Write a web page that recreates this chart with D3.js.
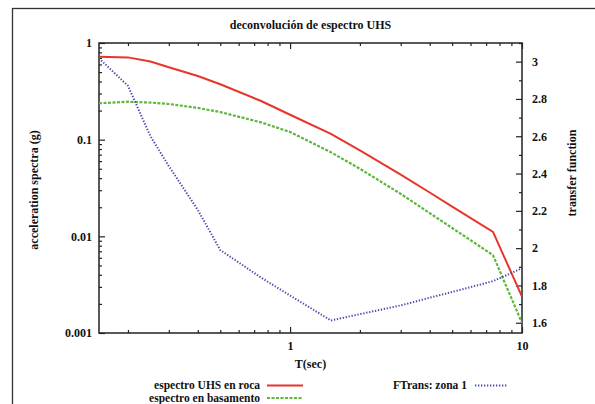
<!DOCTYPE html>
<html>
<head>
<meta charset="utf-8">
<script src="https://cdn.jsdelivr.net/npm/d3@7"></script>
<style>
  html, body { margin: 0; padding: 0; background: #fff; }
  svg { display: block; }
  svg text { font-family: 'Liberation Serif', 'DejaVu Serif', serif !important; font-weight: 700 !important; fill: #111; }
</style>
</head>
<body>
<svg id="chart" width="595" height="404"></svg>
<script>
// ---- data ----
const periods = [0.15, 0.2, 0.25, 0.3, 0.4, 0.5, 0.75, 1, 1.5, 2, 3, 4, 5, 7.5, 10];
const uhsRoca = [0.72, 0.71, 0.644, 0.562, 0.456, 0.374, 0.251, 0.181, 0.115, 0.0773, 0.0435, 0.0284, 0.0203, 0.0111, 0.00238];
const basamento = [0.238, 0.247, 0.242, 0.234, 0.213, 0.193, 0.151, 0.120, 0.074, 0.050, 0.0275, 0.0174, 0.0122, 0.00638, 0.00127];
const ftrans = [3.018, 2.87, 2.60, 2.44, 2.205, 1.99, 1.842, 1.746, 1.612, 1.646, 1.693, 1.734, 1.765, 1.823, 1.892];
const xMajorTicks = [1, 10];
const yLeftTicks = [0.001, 0.01, 0.1, 1];
const yRightTicks = [1.6, 1.8, 2.0, 2.2, 2.4, 2.6, 2.8, 3.0];
const titleText = "deconvolución de espectro UHS";
const xLabel = "T(sec)";
const yLeftLabel = "acceleration spectra (g)";
const yRightLabel = "transfer function";
const seriesNames = ["espectro UHS en roca", "espectro en basamento", "FTrans: zona 1"];

// ---- layout ----
const L = 99, R = 522, T = 43, B = 333;
const svg = d3.select("#chart");

// outer frame
svg.append("rect").attr("x", 12.5).attr("y", 8.5).attr("width", 700).attr("height", 500)
  .attr("fill", "none").attr("stroke", "#333").attr("stroke-width", 1.3);

const x = d3.scaleLog().domain([0.15, 10]).range([L, R]);
const yL = d3.scaleLog().domain([0.001, 1]).range([B, T]);
const yR = d3.scaleLinear().domain([1.545, 3.1]).range([B, T]);

// minor tick values
const xMinor = [];
[0.1, 1].forEach(d => { for (let k = 2; k <= 9; k++) { const v = d * k; if (v >= 0.15 && v < 10) xMinor.push(v); } });
const yMinor = [];
[0.001, 0.01, 0.1].forEach(d => { for (let k = 2; k <= 9; k++) yMinor.push(d * k); });
const yRMinor = d3.range(1.6, 3.101, 0.1).filter(v => Math.abs(Math.round(v * 10) % 2) === 1);

function styleAxis(g) {
  g.select(".domain").remove();
  g.selectAll(".tick line").attr("stroke", "#222").attr("stroke-width", 1.2);
  g.selectAll(".tick text").attr("font-size", 12).attr("fill", "#111");
}

// bottom axis
svg.append("g").attr("transform", `translate(0,${B})`)
  .call(d3.axisBottom(x).tickValues(xMajorTicks).tickFormat(d3.format("d")).tickSize(-6).tickPadding(8)).call(styleAxis);
svg.append("g").attr("transform", `translate(0,${B})`)
  .call(d3.axisBottom(x).tickValues(xMinor).tickFormat("").tickSize(-3)).call(styleAxis);
// top mirror
svg.append("g").attr("transform", `translate(0,${T})`)
  .call(d3.axisTop(x).tickValues(xMajorTicks).tickFormat("").tickSize(-6)).call(styleAxis);
svg.append("g").attr("transform", `translate(0,${T})`)
  .call(d3.axisTop(x).tickValues(xMinor).tickFormat("").tickSize(-3)).call(styleAxis);
// left axis
svg.append("g").attr("transform", `translate(${L},0)`)
  .call(d3.axisLeft(yL).tickValues(yLeftTicks).tickFormat(d => d3.format("")(d)).tickSize(-6).tickPadding(7)).call(styleAxis);
svg.append("g").attr("transform", `translate(${L},0)`)
  .call(d3.axisLeft(yL).tickValues(yMinor).tickFormat("").tickSize(-3)).call(styleAxis);
// right axis
svg.append("g").attr("transform", `translate(${R},0)`)
  .call(d3.axisRight(yR).tickValues(yRightTicks).tickFormat(d3.format(".1~f")).tickSize(-6).tickPadding(10)).call(styleAxis);
svg.append("g").attr("transform", `translate(${R},0)`)
  .call(d3.axisRight(yR).tickValues(yRMinor).tickFormat("").tickSize(-3)).call(styleAxis);

// plot border
svg.append("rect").attr("x", L).attr("y", T).attr("width", R - L).attr("height", B - T)
  .attr("fill", "none").attr("stroke", "#222").attr("stroke-width", 1.5);

// clip
svg.append("clipPath").attr("id", "clip").append("rect").attr("x", L).attr("y", T).attr("width", R - L).attr("height", B - T);
const plot = svg.append("g").attr("clip-path", "url(#clip)");

const lineL = d3.line().x((d, i) => x(periods[i])).y(d => yL(d));
const lineR = d3.line().x((d, i) => x(periods[i])).y(d => yR(d));

const styles = [
  { color: "#e8352c", dash: null, width: 2 },
  { color: "#5cb83a", dash: "3,1.5", width: 2.2 },
  { color: "#4848a8", dash: "1.3,1.7", width: 2 }
];

plot.append("path").datum(basamento).attr("d", lineL).attr("fill", "none")
  .attr("stroke", styles[1].color).attr("stroke-width", styles[1].width).attr("stroke-dasharray", styles[1].dash);
plot.append("path").datum(uhsRoca).attr("d", lineL).attr("fill", "none")
  .attr("stroke", styles[0].color).attr("stroke-width", styles[0].width);
plot.append("path").datum(ftrans).attr("d", lineR).attr("fill", "none")
  .attr("stroke", styles[2].color).attr("stroke-width", styles[2].width).attr("stroke-dasharray", styles[2].dash);

// titles
svg.append("text").attr("x", (L + R) / 2).attr("y", 29).attr("text-anchor", "middle").attr("font-size", 12).text(titleText);
svg.append("text").attr("x", (L + R) / 2).attr("y", 368).attr("text-anchor", "middle").attr("font-size", 12).text(xLabel);
svg.append("text").attr("transform", "translate(38,190) rotate(-90)").attr("text-anchor", "middle").attr("font-size", 12).text(yLeftLabel);
svg.append("text").attr("transform", "translate(576,173) rotate(-90)").attr("text-anchor", "middle").attr("font-size", 12).text(yRightLabel);

// legend
const legendPos = [
  { tx: 260, ly: 385.5, x1: 267, x2: 303 },
  { tx: 260, ly: 398, x1: 267, x2: 303 },
  { tx: 467, ly: 385.5, x1: 475, x2: 508 }
];
seriesNames.forEach((name, i) => {
  const p = legendPos[i];
  svg.append("text").attr("x", p.tx).attr("y", p.ly + 3.5).attr("text-anchor", "end").attr("font-size", 11.5).text(name);
  svg.append("line").attr("x1", p.x1).attr("x2", p.x2).attr("y1", p.ly).attr("y2", p.ly)
    .attr("stroke", styles[i].color).attr("stroke-width", styles[i].width)
    .attr("stroke-dasharray", styles[i].dash);
});
</script>
</body>
</html>
